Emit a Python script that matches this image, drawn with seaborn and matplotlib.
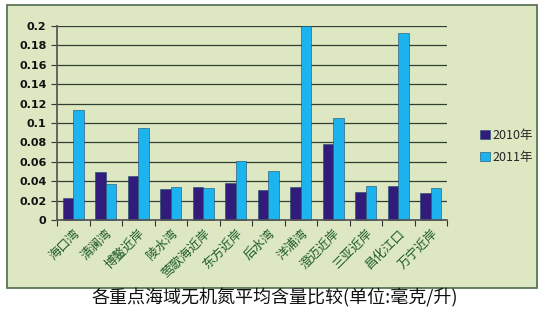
import matplotlib
matplotlib.use("Agg")
import matplotlib.pyplot as plt
import seaborn as sns
import pandas as pd
from matplotlib.patches import Rectangle

categories = ["海口湾", "清澜湾", "博鳌近岸", "陵水湾", "莺歌海近岸", "东方近岸", "后水湾",
              "洋浦湾", "澄迈近岸", "三亚近岸", "昌化江口", "万宁近岸"]
v2010 = [0.023, 0.049, 0.045, 0.032, 0.034, 0.038, 0.031, 0.034, 0.078, 0.029, 0.035, 0.028]
v2011 = [0.113, 0.037, 0.095, 0.034, 0.033, 0.061, 0.051, 0.200, 0.105, 0.035, 0.193, 0.033]
series = ["2010年", "2011年"]
yticks = [0, 0.02, 0.04, 0.06, 0.08, 0.1, 0.12, 0.14, 0.16, 0.18, 0.2]
ytick_labels = ["0", "0.02", "0.04", "0.06", "0.08", "0.1", "0.12", "0.14", "0.16", "0.18", "0.2"]
title = "各重点海域无机氮平均含量比较(单位:毫克/升)"

df = pd.DataFrame({
    "cat": categories * 2,
    "val": v2010 + v2011,
    "year": [series[0]] * len(categories) + [series[1]] * len(categories),
})

sns.set_theme(style="white")
plt.rcParams['font.family'] = ['Noto Sans CJK SC', 'DejaVu Sans']

fig = plt.figure(figsize=(5.49, 3.10), dpi=100)
fig.patch.set_facecolor("white")
# green panel
panel = Rectangle((7 / 549, 1 - 288 / 310), (537 - 7) / 549, (288 - 5) / 310,
                  transform=fig.transFigure, facecolor="#dde8c3", edgecolor="#4d6b4d",
                  linewidth=1.2, zorder=-10)
fig.patches.append(panel)

ax = fig.add_axes([57 / 549, 1 - 220 / 310, (447 - 57) / 549, (220 - 26) / 310])
ax.set_zorder(5)
ax.set_facecolor("none")

palette = {series[0]: "#311c7c", series[1]: "#1cb4ee"}
sns.barplot(data=df, x="cat", y="val", hue="year", palette=palette, width=0.64,
            ax=ax, edgecolor="#1a4a6a", linewidth=0.4, saturation=1)

ax.set_ylim(0, 0.2)
ax.set_yticks(yticks)
ax.set_yticklabels(ytick_labels, fontsize=8, fontweight="bold", color="#111111",
                   family=['DejaVu Sans'])
ax.yaxis.grid(True, color="#2f3f2f", linewidth=0.9)
ax.set_axisbelow(True)
for b in ax.patches:
    b.set_clip_on(False)

ax.set_xlim(-0.5, len(categories) - 0.5)
ax.set_xticks(range(len(categories)))
ax.set_xticklabels(categories, rotation=45, ha="right", rotation_mode="anchor",
                   fontsize=9, color="#1e5a2a", fontweight="medium")
ax.tick_params(axis="x", length=0, pad=5)
ax.tick_params(axis="y", length=4, color="#333333", left=True, width=0.8)
ax.set_xticks([i + 0.5 for i in range(-1, len(categories))], minor=True)
ax.tick_params(axis="x", which="minor", length=4, color="#333333", bottom=True, width=0.8)

ax.set_xlabel("")
ax.set_ylabel("")
for s in ["top", "right"]:
    ax.spines[s].set_visible(False)
ax.spines["left"].set_color("#555555")
ax.spines["bottom"].set_color("#555555")

leg = ax.legend(loc="center left", bbox_to_anchor=(1.055, 0.38), frameon=False,
                fontsize=9, handlelength=0.8, handleheight=0.8, handletextpad=0.2,
                labelspacing=0.7)

fig.text(275 / 549, 1 - 298 / 310, title, ha="center", va="center", fontsize=13,
         color="#111111")

fig.savefig("out.png", dpi=100)
